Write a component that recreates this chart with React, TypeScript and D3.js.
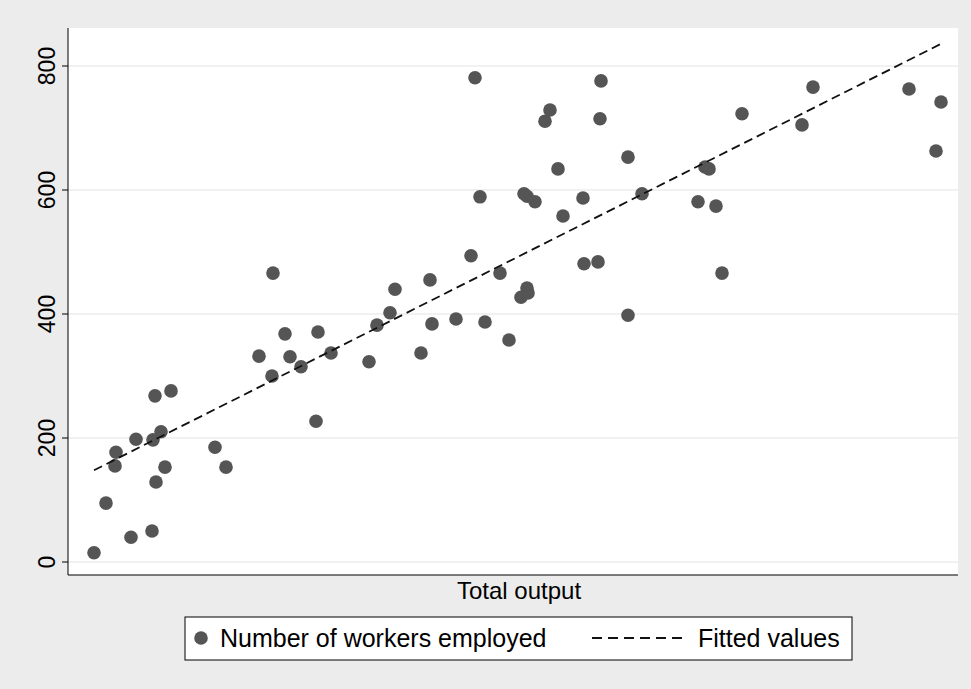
import * as d3 from 'd3';

// Total output (arbitrary units) and number of workers employed
const output = [94, 106, 115, 116, 131, 136, 152, 153, 155, 156, 161, 165, 171, 215, 226, 259, 273, 272, 285, 290, 301, 316, 318, 331, 369, 377, 390, 395, 421, 430, 432, 456, 471, 475, 480, 485, 500, 509, 521, 524, 527, 527, 528, 535, 545, 550, 558, 563, 583, 584, 598, 600, 601, 628, 628, 642, 698, 705, 709, 716, 722, 742, 802, 813, 909, 936, 941];
const workers = [15, 95, 155, 177, 40, 198, 50, 197, 268, 129, 210, 153, 276, 185, 153, 332, 466, 300, 368, 331, 315, 227, 371, 337, 323, 382, 402, 440, 337, 455, 384, 392, 494, 781, 589, 387, 466, 358, 427, 594, 590, 442, 434, 581, 711, 729, 634, 558, 587, 481, 484, 715, 776, 653, 398, 594, 581, 637, 634, 574, 466, 723, 705, 766, 763, 663, 742];
const yTicks = [0, 200, 400, 600, 800];

const W = 971, H = 689;
const plot = { left: 68, right: 958, top: 28, bottom: 575 };

export default function App() {
  const x = d3.scaleLinear().domain([68, 958]).range([plot.left, plot.right]);
  const y = d3.scaleLinear().domain([0, 800]).range([562, 66]);

  const mx = d3.mean(output)!, my = d3.mean(workers)!;
  let sxy = 0, sxx = 0;
  output.forEach((v, i) => { sxy += (v - mx) * (workers[i] - my); sxx += (v - mx) ** 2; });
  const slope = sxy / sxx, icpt = my - slope * mx;
  const [x0, x1] = d3.extent(output) as [number, number];
  const fit = d3.line<number>().x(v => x(v)).y(v => y(icpt + slope * v))([x0, x1]);

  const font = '"Liberation Sans", Arial, sans-serif';
  return (
    <div style={{ position: 'fixed', left: 0, top: 0 }}>
      <svg width={W} height={H} style={{ display: 'block', fontFamily: font }}>
        <rect width={W} height={H} fill="#ececec" />
        <rect x={plot.left} y={plot.top} width={plot.right - plot.left} height={plot.bottom - plot.top} fill="#fff" />
        {yTicks.map(t => (
          <g key={t}>
            <line x1={plot.left} x2={plot.right} y1={y(t)} y2={y(t)} stroke="#e4e4e4" strokeWidth={1.2} />
            <line x1={plot.left - 6} x2={plot.left} y1={y(t)} y2={y(t)} stroke="#000" />
            <text transform={`translate(${plot.left - 13},${y(t)}) rotate(-90)`} textAnchor="middle" fontSize={23}>{t}</text>
          </g>
        ))}
        <line x1={plot.left} x2={plot.left} y1={plot.top} y2={plot.bottom} stroke="#000" />
        <line x1={plot.left} x2={plot.right} y1={plot.bottom} y2={plot.bottom} stroke="#000" />
        {output.map((v, i) => (
          <circle key={i} cx={x(v)} cy={y(workers[i])} r={6.8} fill="#555" />
        ))}
        <path d={fit ?? ''} fill="none" stroke="#111" strokeWidth={1.8} strokeDasharray="9,5" />
        <text x={519} y={599} textAnchor="middle" fontSize={24}>Total output</text>
        <rect x={185} y={617} width={667} height={43} fill="#fff" stroke="#000" />
        <circle cx={201} cy={638} r={6.8} fill="#555" />
        <text x={220} y={647} fontSize={25}>Number of workers employed</text>
        <line x1={592} x2={686} y1={638} y2={638} stroke="#111" strokeWidth={1.8} strokeDasharray="10,6" />
        <text x={698} y={647} fontSize={25}>Fitted values</text>
      </svg>
    </div>
  );
}
